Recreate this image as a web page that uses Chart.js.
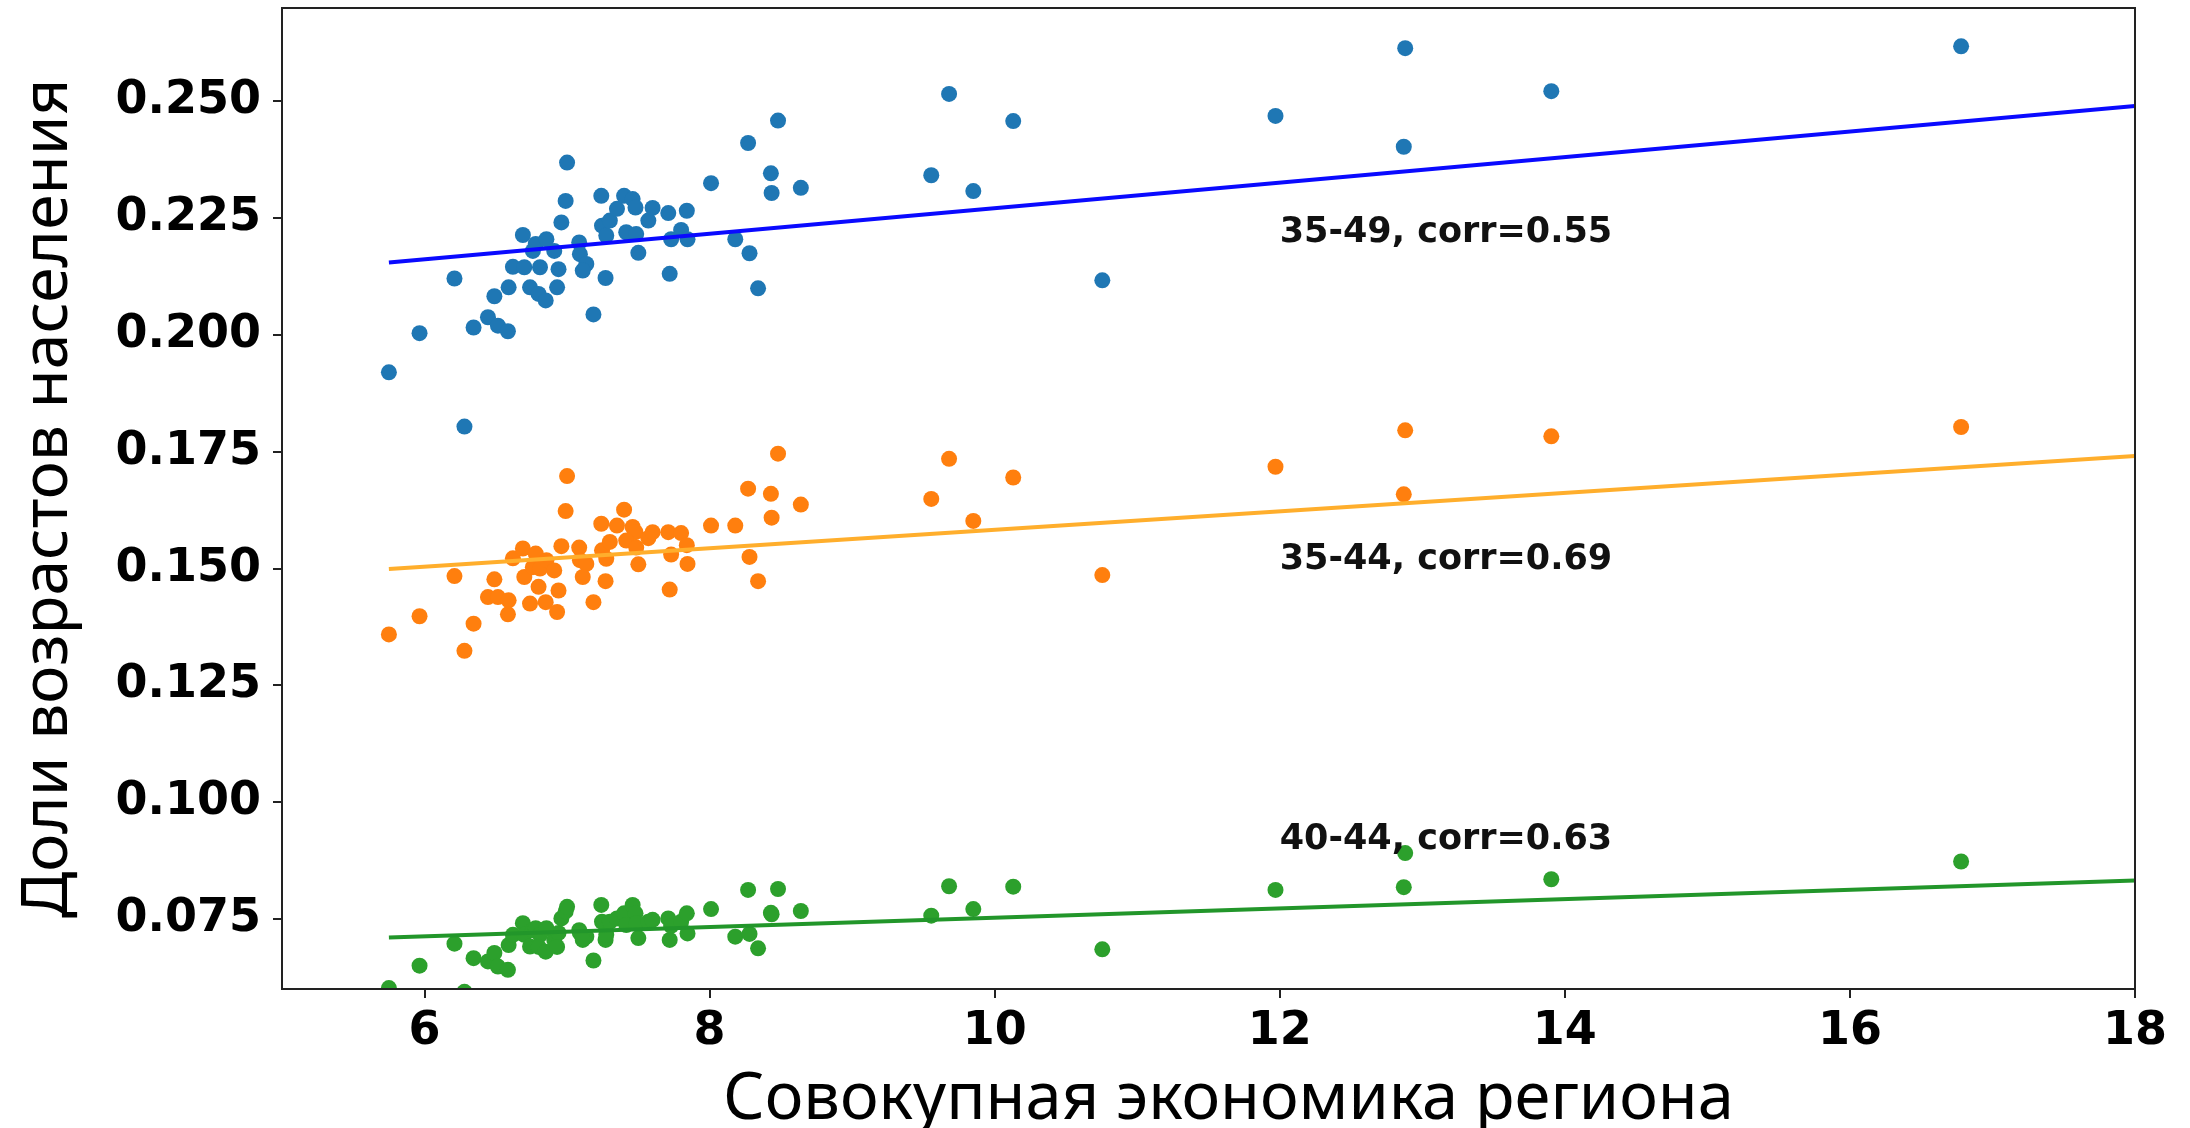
<!DOCTYPE html>
<html>
<head>
<meta charset="utf-8">
<script src="https://cdn.jsdelivr.net/npm/chart.js@4.4.1/dist/chart.umd.min.js"></script>
<style>
  html, body { margin: 0; padding: 0; background: #fff; }
  #wrap { width: 2190px; height: 1128px; position: relative; }
</style>
</head>
<body>
<div id="wrap"><canvas id="myChart"></canvas></div>
<script>
// economy of region (x), shared by all three age groups
const economyX = [
  5.75, 5.965, 6.21, 6.28, 6.344, 6.445, 6.49, 6.515, 6.585, 6.59,
  6.62, 6.69, 6.70, 6.74, 6.76, 6.78, 6.81, 6.80, 6.85, 6.855,
  6.91, 6.94, 6.93, 6.96, 6.99, 7.00, 7.085, 7.09, 7.135, 7.11,
  7.185, 7.24, 7.245, 7.27, 7.275, 7.30, 7.35, 7.40, 7.46, 7.48,
  7.415, 7.485, 7.50, 7.57, 7.60, 7.71, 7.72, 7.73, 7.80, 7.84,
  7.845, 8.01, 8.18, 8.27, 8.28, 8.34, 8.43, 8.435, 8.48, 8.64,
  9.555, 9.68, 9.85, 10.13, 10.755, 11.97, 12.88, 12.87, 13.905, 16.78
];
const share3549 = [
  0.1920, 0.2004, 0.2121, 0.1804, 0.2016, 0.2038, 0.2083, 0.2020, 0.2008, 0.2102,
  0.2146, 0.2214, 0.2145, 0.2102, 0.2180, 0.2195, 0.2145, 0.2088, 0.2074, 0.2205,
  0.2180, 0.2141, 0.2102, 0.2241, 0.2287, 0.2369, 0.2198, 0.2173, 0.2152, 0.2138,
  0.2044, 0.2298, 0.2234, 0.2122, 0.2213, 0.2245, 0.2270, 0.2298, 0.2291, 0.2273,
  0.2220, 0.2216, 0.2176, 0.2245, 0.2272, 0.2261, 0.2131, 0.2205, 0.2225, 0.2266,
  0.2205, 0.2325, 0.2205, 0.2411, 0.2175, 0.2100, 0.2346, 0.2304, 0.2459, 0.2315,
  0.2342, 0.2516, 0.2308, 0.2458, 0.2117, 0.2469, 0.2614, 0.2403, 0.2522, 0.2618
];
const share3544 = [
  0.1359, 0.1398, 0.1484, 0.1324, 0.1382, 0.1439, 0.1477, 0.1439, 0.1402, 0.1432,
  0.1522, 0.1543, 0.1482, 0.1425, 0.1503, 0.1532, 0.1500, 0.1461, 0.1428, 0.1518,
  0.1496, 0.1453, 0.1407, 0.1548, 0.1623, 0.1698, 0.1545, 0.1518, 0.1510, 0.1482,
  0.1428, 0.1596, 0.1539, 0.1473, 0.1521, 0.1557, 0.1592, 0.1626, 0.1589, 0.1578,
  0.1560, 0.1545, 0.1509, 0.1565, 0.1578, 0.1578, 0.1455, 0.1530, 0.1576, 0.1550,
  0.1510, 0.1592, 0.1592, 0.1671, 0.1525, 0.1473, 0.1660, 0.1609, 0.1746, 0.1637,
  0.1649, 0.1735, 0.1602, 0.1695, 0.1486, 0.1718, 0.1796, 0.1659, 0.1783, 0.1803
];
const share4044 = [
  0.0602, 0.0650, 0.0697, 0.0594, 0.0666, 0.0659, 0.0677, 0.0648, 0.0641, 0.0694,
  0.0716, 0.0741, 0.0716, 0.0691, 0.0726, 0.0730, 0.0716, 0.0690, 0.0680, 0.0730,
  0.0705, 0.0720, 0.0690, 0.0751, 0.0766, 0.0776, 0.0726, 0.0720, 0.0712, 0.0705,
  0.0661, 0.0780, 0.0744, 0.0705, 0.0716, 0.0744, 0.0751, 0.0762, 0.0780, 0.0762,
  0.0737, 0.0740, 0.0709, 0.0744, 0.0748, 0.0751, 0.0705, 0.0735, 0.0744, 0.0762,
  0.0719, 0.0771, 0.0712, 0.0812, 0.0718, 0.0687, 0.0763, 0.0760, 0.0814, 0.0767,
  0.0757, 0.0820, 0.0771, 0.0819, 0.0685, 0.0812, 0.0891, 0.0818, 0.0835, 0.0873
];

// regression lines (end points)
const fitX = [5.75, 18];
const fit3549 = [0.2155, 0.2490];
const fit3544 = [0.1499, 0.1741];
const fit4044 = [0.0710, 0.0832];

const xTicks = [6, 8, 10, 12, 14, 16, 18];
const yTicks = [0.075, 0.100, 0.125, 0.150, 0.175, 0.200, 0.225, 0.250];

const noteTexts = ["35-49, corr=0.55", "35-44, corr=0.69", "40-44, corr=0.63"];
const noteX = [12, 12, 12];
const noteY = [0.22, 0.15, 0.09];

const xTitle = "Совокупная экономика региона";
const yTitle = "Доли возрастов населения";

function toPoints(xs, ys) {
  return xs.map((x, i) => ({ x: x, y: ys[i] }));
}

const scatterSet = (label, ys, color) => ({
  type: "scatter",
  label: label,
  data: toPoints(economyX, ys),
  backgroundColor: color,
  borderWidth: 0,
  pointRadius: 8,
  pointHoverRadius: 8,
  clip: 0,
  order: 2,
});

const fitSet = (label, ys, color) => ({
  type: "line",
  label: label,
  data: toPoints(fitX, ys),
  borderColor: color,
  borderWidth: 4,
  pointRadius: 0,
  fill: false,
  clip: 0,
  order: 1,
});

// full box round the plot, the corr notes and the x title (set a bit right of centre, as in the original)
const frameAndNotes = {
  id: "frameAndNotes",
  afterDatasetsDraw(chart) {
    const { ctx, chartArea, scales } = chart;
    ctx.save();
    ctx.strokeStyle = "#222";
    ctx.lineWidth = 2;
    ctx.strokeRect(chartArea.left, chartArea.top,
      chartArea.right - chartArea.left, chartArea.bottom - chartArea.top);
    ctx.fillStyle = "#111";
    ctx.font = "bold 35px 'DejaVu Sans'";
    ctx.textAlign = "left";
    ctx.textBaseline = "alphabetic";
    noteTexts.forEach((t, i) => {
      ctx.fillText(t, scales.x.getPixelForValue(noteX[i]), scales.y.getPixelForValue(noteY[i]));
    });
    ctx.fillStyle = "#000";
    ctx.font = "65px 'Noto Sans'";
    ctx.textAlign = "center";
    ctx.textBaseline = "middle";
    ctx.fillText(xTitle, (chartArea.left + chartArea.right) / 2 + 20, 1100);
    ctx.restore();
  },
};

const tickFont = { family: "'DejaVu Sans'", size: 46, weight: "bold" };
const titleFont = { family: "'Noto Sans'", size: 64, weight: "normal", lineHeight: 0.8 };

document.addEventListener("DOMContentLoaded", function () {
  const ctx = document.getElementById("myChart").getContext("2d");
  new Chart(ctx, {
    data: {
      datasets: [
        fitSet("fit 35-49", fit3549, "#0a0aff"),
        fitSet("fit 35-44", fit3544, "#ffae2c"),
        fitSet("fit 40-44", fit4044, "#22962a"),
        scatterSet("35-49", share3549, "#1f77b4"),
        scatterSet("35-44", share3544, "#ff7f0e"),
        scatterSet("40-44", share4044, "#2ca02c"),
      ],
    },
    options: {
      responsive: true,
      maintainAspectRatio: false,
      animation: false,
      devicePixelRatio: 1,
      layout: { padding: { left: 0, right: 55, top: 7, bottom: 0 } },
      plugins: { legend: { display: false }, tooltip: { enabled: false } },
      scales: {
        x: {
          type: "linear",
          min: 5,
          max: 18,
          afterBuildTicks(scale) { scale.ticks = xTicks.map((v) => ({ value: v })); },
          afterFit(scale) { scale.height = 139; scale.paddingRight = 0; scale.paddingLeft = 0; },
          ticks: { font: tickFont, color: "#000", padding: 6, maxRotation: 0 },
          grid: { drawOnChartArea: false, drawTicks: true, tickLength: 9, color: "#222", lineWidth: 2 },
          border: { display: true, color: "#222", width: 2 },
          title: { display: false, text: xTitle },
        },
        y: {
          type: "linear",
          min: 0.06,
          max: 0.27,
          afterBuildTicks(scale) { scale.ticks = yTicks.map((v) => ({ value: v })); },
          afterFit(scale) { scale.width = 282; scale.paddingTop = 0; scale.paddingBottom = 0; },
          ticks: { font: tickFont, color: "#000", padding: 12, callback: (v) => Number(v).toFixed(3) },
          grid: { drawOnChartArea: false, drawTicks: true, tickLength: 9, color: "#222", lineWidth: 2 },
          border: { display: true, color: "#222", width: 2 },
          title: { display: true, text: yTitle, font: titleFont, color: "#000", padding: { top: 23, bottom: 0 } },
        },
      },
    },
    plugins: [frameAndNotes],
  });
});
</script>
</body>
</html>
